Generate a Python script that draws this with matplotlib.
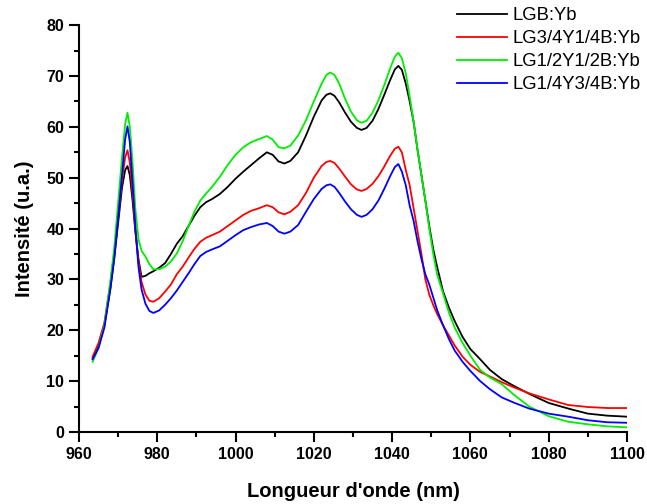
import matplotlib
matplotlib.use("Agg")
import matplotlib.pyplot as plt
from matplotlib.ticker import MultipleLocator

# wavelength grid (nm) shared by the four spectra
wl = [963.5, 965, 966.5, 968, 969, 970, 971, 971.8, 972.4, 973, 973.7, 974.4, 975.2, 976,
      977, 978, 979, 980.5, 982, 983.5, 985, 986.5, 988, 989.5, 991, 992.5, 994, 996,
      998, 1000, 1002, 1004, 1006, 1008, 1009.5, 1011, 1012.5, 1014, 1016, 1018, 1020,
      1022, 1023.2, 1024.2, 1025.3, 1026.5, 1028, 1029.5, 1031, 1032.2, 1033.5, 1035,
      1036.5, 1038, 1039.5, 1040.7, 1041.6, 1042.5, 1043.5, 1044.5, 1045.5, 1046.5,
      1047.5, 1048.5, 1049.5, 1050.5, 1051.5, 1053, 1054.5, 1056, 1058, 1060, 1062.5,
      1065, 1068, 1071, 1075, 1080, 1085, 1090, 1095, 1100]

lgb = [14.5, 17, 21, 28, 34, 41, 48, 51.5, 52.3, 50.5, 45.5, 39.5, 34, 30.5,
       30.7, 31.2, 31.6, 32.3, 33.2, 35, 37, 38.5, 40.5, 42.5, 44.2, 45.2, 45.8, 46.8,
       48.2, 49.8, 51.2, 52.5, 53.8, 55, 54.5, 53.2, 52.8, 53.3, 55, 58.3, 62,
       65.2, 66.3, 66.6, 66.1, 64.8, 62.8, 61, 59.8, 59.4, 59.8, 61.2,
       63.5, 66.3, 69.2, 71.3, 72, 71.2, 68.5, 65, 61, 55.5,
       50.5, 45.5, 40.5, 36, 32.5, 27.7, 24.5, 21.8, 18.7, 16.3, 14.3,
       12.2, 10.4, 9.1, 7.5, 5.7, 4.6, 3.6, 3.2, 3.0]

lg34 = [14.8, 17.5, 21.5, 29, 35, 42, 49.5, 54, 55.4, 53, 47, 40, 33.5, 29.5,
        27, 25.8, 25.6, 26.3, 27.6, 29, 31, 32.5, 34.3, 36, 37.4, 38.2, 38.7, 39.4,
        40.5, 41.6, 42.7, 43.5, 44, 44.6, 44.2, 43.2, 42.8, 43.3, 44.6, 47, 50,
        52.3, 53.1, 53.3, 52.9, 51.8, 50.2, 48.7, 47.7, 47.4, 47.8, 48.8,
        50.3, 52.2, 54.3, 55.7, 56.1, 55, 51.5, 48.5, 44, 39.5,
        35, 30, 27, 25, 23.2, 21, 19, 17, 14.8, 13.2, 11.8,
        10.9, 9.8, 8.8, 7.6, 6.4, 5.3, 4.9, 4.7, 4.7]

lg12 = [13.8, 16.5, 21, 29.5, 36, 45, 54, 60.5, 62.8, 60, 53, 44, 38, 35.6,
        34.5, 33, 32, 32, 32.5, 33.5, 35.1, 37.5, 40.5, 43.3, 45.5, 46.9, 48.2, 50.2,
        52.5, 54.5, 56, 57, 57.6, 58.2, 57.5, 56, 55.8, 56.3, 58.3, 61.3, 65,
        68.5, 70.2, 70.7, 70.2, 68.5, 65.5, 63, 61.3, 60.8, 61.2, 62.8,
        65.2, 68.2, 71.5, 73.8, 74.6, 73.5, 70.5, 66, 61, 55.5,
        50.5, 45.5, 40, 35.1, 31, 27.3, 23.5, 20.5, 17.5, 15, 12.2,
        10.7, 9.4, 7.4, 5, 3.1, 2.0, 1.5, 1.1, 0.9]

lg14 = [14.3, 16.5, 20.5, 28, 34, 42, 50.5, 57.5, 60.1, 57, 49, 40.5, 32.5, 28,
        25.2, 23.8, 23.4, 23.9, 25, 26.3, 27.8, 29.5, 31.2, 33, 34.6, 35.4, 35.9, 36.5,
        37.6, 38.7, 39.7, 40.3, 40.8, 41.1, 40.5, 39.4, 39, 39.4, 40.7, 43.3, 45.8,
        47.8, 48.5, 48.7, 48.2, 47, 45.3, 43.8, 42.7, 42.3, 42.7, 43.8,
        45.5, 47.8, 50.3, 52.1, 52.7, 51.2, 48.5, 44.5, 41.5, 37.5,
        34, 31, 29, 26.5, 24, 21, 18.3, 16, 13.8, 12, 10,
        8.4, 6.8, 5.8, 4.6, 3.6, 3.0, 2.3, 1.9, 1.8]

labels = ["LGB:Yb", "LG3/4Y1/4B:Yb", "LG1/2Y1/2B:Yb", "LG1/4Y3/4B:Yb"]
colors = ["black", "red", "#00ee00", "blue"]

plt.rcParams["font.family"] = ["Liberation Sans", "DejaVu Sans"]

fig = plt.figure(figsize=(6.47, 5.04), dpi=100)
ax = fig.add_axes([0.122, 0.143, 0.847, 0.807])

for ys, lab, c in zip([lgb, lg34, lg12, lg14], labels, colors):
    ax.plot(wl, ys, color=c, lw=1.3, label=lab)

ax.set_xlim(960, 1100)
ax.set_ylim(0, 80)
ax.xaxis.set_major_locator(MultipleLocator(20))
ax.xaxis.set_minor_locator(MultipleLocator(10))
ax.yaxis.set_major_locator(MultipleLocator(10))
ax.yaxis.set_minor_locator(MultipleLocator(5))
for s in ["top", "right"]:
    ax.spines[s].set_visible(False)
for s in ["left", "bottom"]:
    ax.spines[s].set_linewidth(1.5)
ax.tick_params(which="major", direction="out", length=7, width=1.5, labelsize=11.5, pad=3.5)
ax.tick_params(which="minor", direction="out", length=3.5, width=1.5)
for t in ax.get_xticklabels() + ax.get_yticklabels():
    t.set_fontweight("bold")

ax.set_xlabel("Longueur d'onde (nm)", fontsize=14.5, fontweight="bold", labelpad=15)
ax.set_ylabel("Intensité (u.a.)", fontsize=14.5, fontweight="bold", labelpad=9)

fig.legend(loc="upper left", bbox_to_anchor=(0.706, 0.986), frameon=False, fontsize=13.3,
           handlelength=2.7, handletextpad=0.3, labelspacing=0.33,
           borderpad=0.0, borderaxespad=0.0)

fig.savefig("out.png", dpi=100)
